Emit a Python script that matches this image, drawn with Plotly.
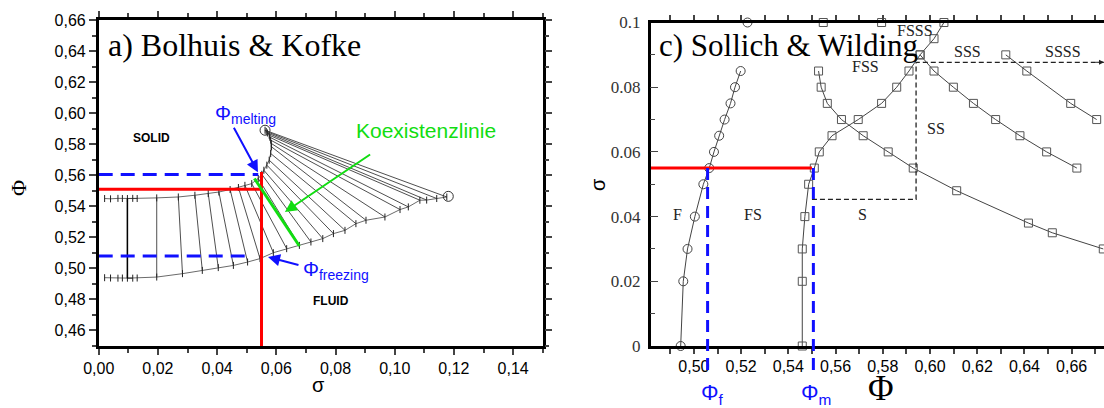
import plotly.graph_objects as go

W, H = 1104, 408

# ---------------- Left panel: Bolhuis & Kofke ----------------
# tie lines: solid end (sigma, phi) -> fluid end (sigma, phi)
bk_tie_solid_sigma = [0.0097, 0.0196, 0.0269, 0.0325, 0.0370, 0.0406, 0.0444, 0.0472, 0.0494, 0.0517,
                      0.0539, 0.0551, 0.0558, 0.0568, 0.0576, 0.0581, 0.0584, 0.0583, 0.0581, 0.0578,
                      0.0576, 0.0570, 0.0566, 0.0562]
bk_tie_solid_phi = [0.5450, 0.5454, 0.5460, 0.5471, 0.5482, 0.5492, 0.5508, 0.5521, 0.5535, 0.5546,
                    0.5579, 0.5606, 0.5632, 0.5665, 0.5697, 0.5740, 0.5783, 0.5805, 0.5826, 0.5845,
                    0.5858, 0.5872, 0.5882, 0.5890]
bk_tie_fluid_sigma = [0.0097, 0.0196, 0.0283, 0.0350, 0.0404, 0.0455, 0.0503, 0.0545, 0.0590, 0.0635,
                      0.0678, 0.0717, 0.0757, 0.0793, 0.0832, 0.0869, 0.0903, 0.0967, 0.1018, 0.1046,
                      0.1085, 0.1108, 0.1142, 0.1176]
bk_tie_fluid_phi = [0.4937, 0.4944, 0.4966, 0.4987, 0.5005, 0.5019, 0.5041, 0.5063, 0.5101, 0.5127,
                    0.5148, 0.5170, 0.5192, 0.5224, 0.5245, 0.5288, 0.5310, 0.5331, 0.5379, 0.5396,
                    0.5439, 0.5440, 0.5450, 0.5460]
# extra simulation points near sigma = 0
bk_start_sigma = [0.002, 0.004, 0.0065, 0.008, 0.0115, 0.013]
bk_start_solid_phi = [0.5450, 0.5448, 0.5451, 0.5450, 0.5451, 0.5450]
bk_start_fluid_phi = [0.4940, 0.4938, 0.4937, 0.4938, 0.4937, 0.4938]
# terminal points
bk_term_sigma = [0.0562, 0.1181]
bk_term_phi = [0.5890, 0.5464]

bk_sigma_c = 0.055        # red vertical
bk_phi_red = 0.551        # red horizontal
bk_phi_melting = 0.5605
bk_phi_freezing = 0.508
bk_green_sigma = [0.0526, 0.0678]
bk_green_phi = [0.5579, 0.5144]

bk_xticks = [0.00, 0.02, 0.04, 0.06, 0.08, 0.10, 0.12, 0.14]
bk_xticktext = ["0,00", "0,02", "0,04", "0,06", "0,08", "0,10", "0,12", "0,14"]
bk_yticks = [0.46, 0.48, 0.50, 0.52, 0.54, 0.56, 0.58, 0.60, 0.62, 0.64, 0.66]
bk_yticktext = ["0,46", "0,48", "0,50", "0,52", "0,54", "0,56", "0,58", "0,60", "0,62", "0,64", "0,66"]

# ---------------- Right panel: Sollich & Wilding ----------------
sw_f_phi = [0.4944, 0.4955, 0.4973, 0.5004, 0.5040, 0.5065, 0.5085, 0.5107, 0.5130, 0.5155, 0.5174, 0.5198]
sw_f_sigma = [0.0, 0.02, 0.03, 0.04, 0.05, 0.055, 0.06, 0.065, 0.07, 0.075, 0.08, 0.085]
sw_fs_phi = [0.5459, 0.5459, 0.5459, 0.5470, 0.5486, 0.5510, 0.5531, 0.5585, 0.5696, 0.5795, 0.5859,
             0.5911, 0.5958, 0.6017, 0.6059]
sw_fs_sigma = [0.0, 0.02, 0.03, 0.04, 0.05, 0.055, 0.06, 0.065, 0.07, 0.075, 0.08, 0.085, 0.09, 0.095, 0.10]
sw_s_phi = [0.5528, 0.5539, 0.5565, 0.5625, 0.5717, 0.5823, 0.5929, 0.6113, 0.6417, 0.6518, 0.6734]
sw_s_sigma = [0.085, 0.080, 0.075, 0.070, 0.065, 0.060, 0.055, 0.048, 0.038, 0.035, 0.030]
sw_ss_phi = [0.5958, 0.6017, 0.6099, 0.6184, 0.6278, 0.6381, 0.6494, 0.6622]
sw_ss_sigma = [0.090, 0.085, 0.080, 0.075, 0.070, 0.065, 0.060, 0.055]
sw_sss_phi = [0.6321, 0.6410, 0.6596, 0.6706]
sw_sss_sigma = [0.090, 0.085, 0.075, 0.070]
sw_top_circle_phi = [0.5227]
sw_top_square_phi = [0.5548, 0.5795]
sw_top_sigma = 0.10

sw_sigma_c = 0.055
sw_phi_f = 0.5058
sw_phi_m = 0.5506
sw_path_phi = [0.5500, 0.5941, 0.5941, 0.6737]
sw_path_sigma = [0.0453, 0.0453, 0.0877, 0.0877]

sw_xticks = [0.50, 0.52, 0.54, 0.56, 0.58, 0.60, 0.62, 0.64, 0.66]
sw_xticktext = ["0,50", "0,52", "0,54", "0,56", "0,58", "0,60", "0,62", "0,64", "0,66"]
sw_yticks = [0.0, 0.02, 0.04, 0.06, 0.08, 0.1]
sw_yticktext = ["0", "0.02", "0.04", "0.06", "0.08", "0.1"]

# ---------------- layout geometry ----------------
L_XDOM = [98.7 / W, 542.7 / W]
L_YDOM = [1 - 346 / H, 1 - 20 / H]
L_XR = [0.0, 0.15]
L_YR = [0.45, 0.66]
R_XDOM = [650.7 / W, 1.0]
R_YDOM = [1 - 346 / H, 1 - 22.5 / H]
R_XR = [0.4817, 0.6737]
R_YR = [0.0, 0.1]

SERIF = "Liberation Serif, Times New Roman, serif"
SANS = "Liberation Sans, Arial, sans-serif"
BLUE = "#1010ff"
RED = "#ff0000"
GREEN = "#11dd11"

fig = go.Figure()

# tie lines
tx, ty = [], []
for s0, p0, s1, p1 in zip(bk_tie_solid_sigma, bk_tie_solid_phi, bk_tie_fluid_sigma, bk_tie_fluid_phi):
    tx += [s0, s1, None]
    ty += [p0, p1, None]
fig.add_trace(go.Scatter(x=tx, y=ty, mode="lines", line=dict(color="#222", width=0.8),
                         xaxis="x", yaxis="y", hoverinfo="skip"))
# branches
fig.add_trace(go.Scatter(x=bk_start_sigma + bk_tie_solid_sigma, y=bk_start_solid_phi + bk_tie_solid_phi,
                         mode="lines+markers", line=dict(color="#444", width=0.8),
                         marker=dict(symbol="line-ns", size=5, line=dict(color="#222", width=1)),
                         xaxis="x", yaxis="y"))
fig.add_trace(go.Scatter(x=bk_start_sigma + bk_tie_fluid_sigma, y=bk_start_fluid_phi + bk_tie_fluid_phi,
                         mode="lines+markers", line=dict(color="#444", width=0.8),
                         marker=dict(symbol="line-ns", size=5, line=dict(color="#222", width=1)),
                         xaxis="x", yaxis="y"))
fig.add_trace(go.Scatter(x=bk_term_sigma, y=bk_term_phi, mode="markers",
                         marker=dict(symbol="circle-open", size=10, color="#333", line=dict(width=1)),
                         xaxis="x", yaxis="y"))
# thicker tie line at sigma=0.01
fig.add_trace(go.Scatter(x=[bk_tie_solid_sigma[0], bk_tie_fluid_sigma[0]],
                         y=[bk_tie_solid_phi[0], bk_tie_fluid_phi[0]], mode="lines",
                         line=dict(color="black", width=1.5), xaxis="x", yaxis="y"))
# blue dashed
fig.add_trace(go.Scatter(x=[0, 0.0539], y=[bk_phi_melting, bk_phi_melting], mode="lines",
                         line=dict(color=BLUE, width=3, dash="14px,8px"), xaxis="x", yaxis="y"))
fig.add_trace(go.Scatter(x=[0, 0.0505], y=[bk_phi_freezing, bk_phi_freezing], mode="lines",
                         line=dict(color=BLUE, width=3, dash="14px,8px"), xaxis="x", yaxis="y"))
# red lines
fig.add_trace(go.Scatter(x=[0, bk_sigma_c, None, bk_sigma_c, bk_sigma_c],
                         y=[bk_phi_red, bk_phi_red, None, 0.5621, L_YR[0]], mode="lines",
                         line=dict(color=RED, width=3), xaxis="x", yaxis="y"))
# green coexistence line
fig.add_trace(go.Scatter(x=bk_green_sigma, y=bk_green_phi, mode="lines",
                         line=dict(color=GREEN, width=3), xaxis="x", yaxis="y"))

# ---- right panel traces ----
line_c = dict(color="#444", width=1)
fig.add_trace(go.Scatter(x=sw_f_phi, y=sw_f_sigma, mode="lines+markers", line=line_c,
                         marker=dict(symbol="circle-open", size=9, color="#444", line=dict(width=1)),
                         xaxis="x2", yaxis="y2", cliponaxis=False))
fig.add_trace(go.Scatter(x=sw_top_circle_phi, y=[sw_top_sigma], mode="markers",
                         marker=dict(symbol="circle-open", size=9, color="#444", line=dict(width=1)),
                         xaxis="x2", yaxis="y2", cliponaxis=False))
sq = dict(symbol="square-open", size=8, color="#555", line=dict(width=1))
for xs, ys in [(sw_fs_phi, sw_fs_sigma), (sw_s_phi, sw_s_sigma), (sw_ss_phi, sw_ss_sigma),
               (sw_sss_phi, sw_sss_sigma)]:
    fig.add_trace(go.Scatter(x=xs, y=ys, mode="lines+markers", line=line_c, marker=sq,
                             xaxis="x2", yaxis="y2", cliponaxis=False))
fig.add_trace(go.Scatter(x=sw_top_square_phi, y=[sw_top_sigma] * len(sw_top_square_phi), mode="markers",
                         marker=sq, xaxis="x2", yaxis="y2", cliponaxis=False))
# red horizontal
fig.add_trace(go.Scatter(x=[R_XR[0], 0.5500], y=[sw_sigma_c, sw_sigma_c], mode="lines",
                         line=dict(color=RED, width=3), xaxis="x2", yaxis="y2"))
# black dashed path
fig.add_trace(go.Scatter(x=sw_path_phi, y=sw_path_sigma, mode="lines",
                         line=dict(color="#222", width=1.3, dash="5px,3px"), xaxis="x2", yaxis="y2"))

def r_ypaper(s):
    return R_YDOM[0] + (s - R_YR[0]) / (R_YR[1] - R_YR[0]) * (R_YDOM[1] - R_YDOM[0])

shapes = []
for px in (sw_phi_f, sw_phi_m):
    shapes.append(dict(type="line", xref="x2", yref="paper", x0=px, x1=px,
                       y0=r_ypaper(sw_sigma_c), y1=1 - 376 / H,
                       line=dict(color=BLUE, width=3, dash="12px,7px")))

annotations = []
def ann(text, x, y, xref, yref, size, family=SANS, color="black", xanchor="center", **kw):
    d = dict(text=text, x=x, y=y, xref=xref, yref=yref, showarrow=False,
             xanchor=xanchor, yanchor="middle",
             font=dict(size=size, family=family, color=color))
    d.update(kw)
    annotations.append(d)

# titles
ann("a) Bolhuis &amp; Kofke", 106 / W, 1 - 45 / H, "paper", "paper", 32, SERIF, xanchor="left")
ann("c) Sollich &amp; Wilding", 657 / W, 1 - 45 / H, "paper", "paper", 31, SERIF, xanchor="left")
# axis titles
ann("Φ", 19 / W, 1 - 188 / H, "paper", "paper", 22, SERIF, textangle=-90)
ann("σ", 318 / W, 1 - 385 / H, "paper", "paper", 20, SANS)
ann("σ", 598 / W, 1 - 185 / H, "paper", "paper", 20, SANS, textangle=-90)
ann("Φ", 881 / W, 1 - 388 / H, "paper", "paper", 35, SERIF)
ann("Φ<sub>f</sub>", 712 / W, 1 - 394 / H, "paper", "paper", 22, SANS, BLUE)
ann("Φ<sub>m</sub>", 816 / W, 1 - 394 / H, "paper", "paper", 22, SANS, BLUE)
# left panel texts
ann("<b>SOLID</b>", 0.0177, 0.5839, "x", "y", 12, SANS, "black")
ann("<b>FLUID</b>", 0.0785, 0.4790, "x", "y", 12, SANS, "black")
ann("Φ<sub>melting</sub>", 0.0495, 0.5990, "x", "y", 20, SANS, BLUE)
ann("Φ<sub>freezing</sub>", 0.0800, 0.4985, "x", "y", 20, SANS, BLUE)
ann("Koexistenzlinie", 0.1105, 0.5890, "x", "y", 21, SANS, GREEN)
# arrows
annotations.append(dict(x=0.0538, y=0.5619, ax=0.0454, ay=0.5916, xref="x", yref="y", axref="x", ayref="y",
                        text="", showarrow=True, arrowhead=2, arrowsize=1.2, arrowwidth=2, arrowcolor=BLUE))
annotations.append(dict(x=0.0572, y=0.5073, ax=0.0680, ay=0.5019, xref="x", yref="y", axref="x", ayref="y",
                        text="", showarrow=True, arrowhead=2, arrowsize=1.2, arrowwidth=2, arrowcolor=BLUE))
annotations.append(dict(x=0.0629, y=0.5363, ax=0.0922, ay=0.5740, xref="x", yref="y", axref="x", ayref="y",
                        text="", showarrow=True, arrowhead=2, arrowsize=1.2, arrowwidth=2, arrowcolor=GREEN))
# dashed path arrowhead
annotations.append(dict(x=sw_path_phi[-1], y=sw_path_sigma[-1], ax=sw_path_phi[-1] - 0.004, ay=sw_path_sigma[-1],
                        xref="x2", yref="y2", axref="x2", ayref="y2", text="", showarrow=True,
                        arrowhead=2, arrowsize=1, arrowwidth=1, arrowcolor="#222"))
# right panel region labels
for t, x, y in [("F", 0.4932, 0.0407), ("FS", 0.5249, 0.0407), ("S", 0.5716, 0.0407), ("SS", 0.6025, 0.0671),
                ("FSS", 0.5725, 0.0863), ("SSS", 0.6157, 0.0910), ("SSSS", 0.6564, 0.0910),
                ("FSSS", 0.5936, 0.0975)]:
    ann(t, x, y, "x2", "y2", 16, SERIF, "#222")

tickfont_l = dict(family=SANS, size=16, color="black")
fig.update_layout(
    width=W, height=H, margin=dict(l=0, r=0, t=0, b=0, autoexpand=False),
    paper_bgcolor="white", plot_bgcolor="white", showlegend=False,
    xaxis=dict(domain=L_XDOM, range=L_XR, anchor="y", tickvals=bk_xticks, ticktext=bk_xticktext,
               ticks="outside", ticklen=6, tickwidth=2, showline=True, linewidth=2.5, linecolor="black",
               mirror="ticks", showgrid=False, zeroline=False, tickfont=tickfont_l, automargin=False,
               minor=dict(dtick=0.01, tick0=0, ticks="outside", ticklen=4, tickwidth=1.5, showgrid=False)),
    yaxis=dict(domain=L_YDOM, range=L_YR, anchor="x", tickvals=bk_yticks, ticktext=bk_yticktext,
               ticks="outside", ticklen=7, tickwidth=2, showline=True, linewidth=2.5, linecolor="black",
               mirror="ticks", showgrid=False, zeroline=False, tickfont=tickfont_l, automargin=False,
               minor=dict(dtick=0.01, tick0=0.45, ticks="outside", ticklen=4, tickwidth=1.5, showgrid=False)),
    xaxis2=dict(domain=R_XDOM, range=R_XR, anchor="y2", tickvals=sw_xticks, ticktext=sw_xticktext,
                ticks="outside", ticklen=4, tickwidth=1.5, showline=True, linewidth=2.5, linecolor="black",
                mirror="ticks", showgrid=False, zeroline=False, tickfont=tickfont_l, automargin=False,
                minor=dict(dtick=0.01, tick0=0.49, ticks="outside", ticklen=5, tickwidth=1.5, showgrid=False)),
    yaxis2=dict(domain=R_YDOM, range=R_YR, anchor="x2", tickvals=sw_yticks, ticktext=sw_yticktext,
                ticks="inside", ticklen=8, tickwidth=1, showline=True, linewidth=2.5, linecolor="black",
                mirror=False, showgrid=False, zeroline=False, ticklabelstandoff=4, automargin=False,
                tickfont=dict(family=SERIF, size=17, color="#333"),
                minor=dict(dtick=0.01, tick0=0, ticks="inside", ticklen=5, tickwidth=1, showgrid=False)),
    shapes=shapes, annotations=annotations,
)

fig.write_html("out.html")
